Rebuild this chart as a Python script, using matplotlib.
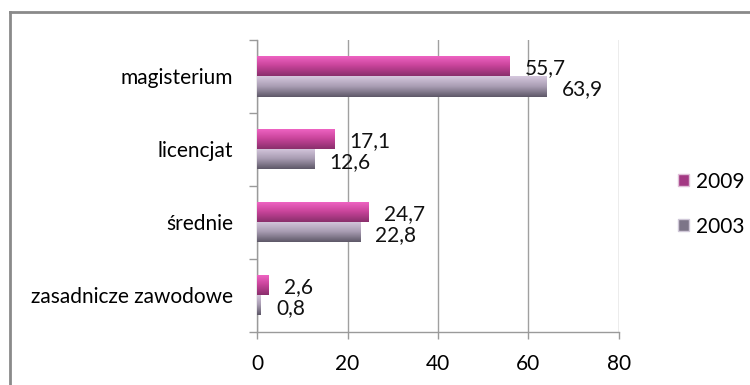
import matplotlib
matplotlib.use("Agg")
import matplotlib.pyplot as plt
import numpy as np
from matplotlib.patches import Patch
from matplotlib.colors import LinearSegmentedColormap
from matplotlib.lines import Line2D

plt.rcParams['font.family'] = ['Lato', 'DejaVu Sans']

categories = ['zasadnicze zawodowe', 'średnie', 'licencjat', 'magisterium']
vals_2009 = [2.6, 24.7, 17.1, 55.7]
vals_2003 = [0.8, 22.8, 12.6, 63.9]
xticks = [0, 20, 40, 60, 80]

BAR_H = 0.274
FS = 15
cmap_2009 = LinearSegmentedColormap.from_list('p', ['#8a2f6c', '#c8449a', '#f266c6'])
cmap_2003 = LinearSegmentedColormap.from_list('g', ['#5e5868', '#a89cb2', '#d6c8de'])


def fmt(v):
    return ('%.1f' % v).replace('.', ',')


def gradient_bars(ax, bars, cmap):
    grad = np.linspace(0, 1, 64).reshape(-1, 1)
    for b in bars:
        x0, y0 = b.get_x(), b.get_y()
        w, h = b.get_width(), b.get_height()
        im = ax.imshow(grad, cmap=cmap, origin='lower', aspect='auto',
                       extent=(x0, x0 + w, y0, y0 + h), zorder=3)
        im.set_clip_path(b)


fig = plt.figure(figsize=(7.5, 3.85), dpi=100)
ax = fig.add_axes([0.3427, 0.1377, 0.4826, 0.7584])

y = np.arange(len(categories))
b09 = ax.barh(y + BAR_H / 2, vals_2009, height=BAR_H, facecolor='none',
              edgecolor='none', zorder=3)
b03 = ax.barh(y - BAR_H / 2, vals_2003, height=BAR_H, facecolor='none',
              edgecolor='none', zorder=3)
gradient_bars(ax, b09, cmap_2009)
gradient_bars(ax, b03, cmap_2003)

for yi, v in zip(y + BAR_H / 2, vals_2009):
    ax.annotate(fmt(v), (v, yi), xytext=(11, -1), textcoords='offset points',
                va='center', ha='left', fontsize=FS, color='#111111', zorder=5)
for yi, v in zip(y - BAR_H / 2, vals_2003):
    ax.annotate(fmt(v), (v, yi), xytext=(11, -2), textcoords='offset points',
                va='center', ha='left', fontsize=FS, color='#111111', zorder=5)

ax.set_xlim(0, 80)
ax.set_ylim(-0.5, 3.5)
ax.set_xticks(xticks)
ax.set_xticklabels([str(t) for t in xticks])
ax.set_yticks(y)
ax.set_yticklabels(categories)
ax.set_yticks(np.arange(-0.5, 4, 1), minor=True)
ax.tick_params(axis='y', which='major', length=0, pad=17, labelsize=FS)
ax.tick_params(axis='y', which='minor', length=6, color='#9a9a9a', width=1)
ax.tick_params(axis='x', length=5, color='#9a9a9a', width=1, pad=11,
               labelsize=FS)
ax.grid(axis='x', color='#a0a0a0', linewidth=1, zorder=0)
ax.set_axisbelow(True)
for s in ['top', 'right']:
    ax.spines[s].set_visible(False)
for s in ['left', 'bottom']:
    ax.spines[s].set_color('#9a9a9a')
    ax.spines[s].set_linewidth(1)

handles = [Patch(facecolor='#a33883', edgecolor='#e0c0d8', label='2009'),
           Patch(facecolor='#7d7588', edgecolor='#d0c8d8', label='2003')]
fig.legend(handles=handles, loc='center left', bbox_to_anchor=(0.879, 0.47),
           frameon=False, fontsize=FS, handlelength=0.55, handleheight=0.55,
           handletextpad=0.3, labelspacing=1.2)

# chart frame (top and left edges)
fig.add_artist(Line2D([0.0133, 1.0], [0.9701, 0.9701], color='#8a8a8a',
                      linewidth=2, transform=fig.transFigure))
fig.add_artist(Line2D([0.0133, 0.0133], [0.0, 0.9701], color='#8a8a8a',
                      linewidth=2, transform=fig.transFigure))

fig.savefig('out.png', dpi=100)
